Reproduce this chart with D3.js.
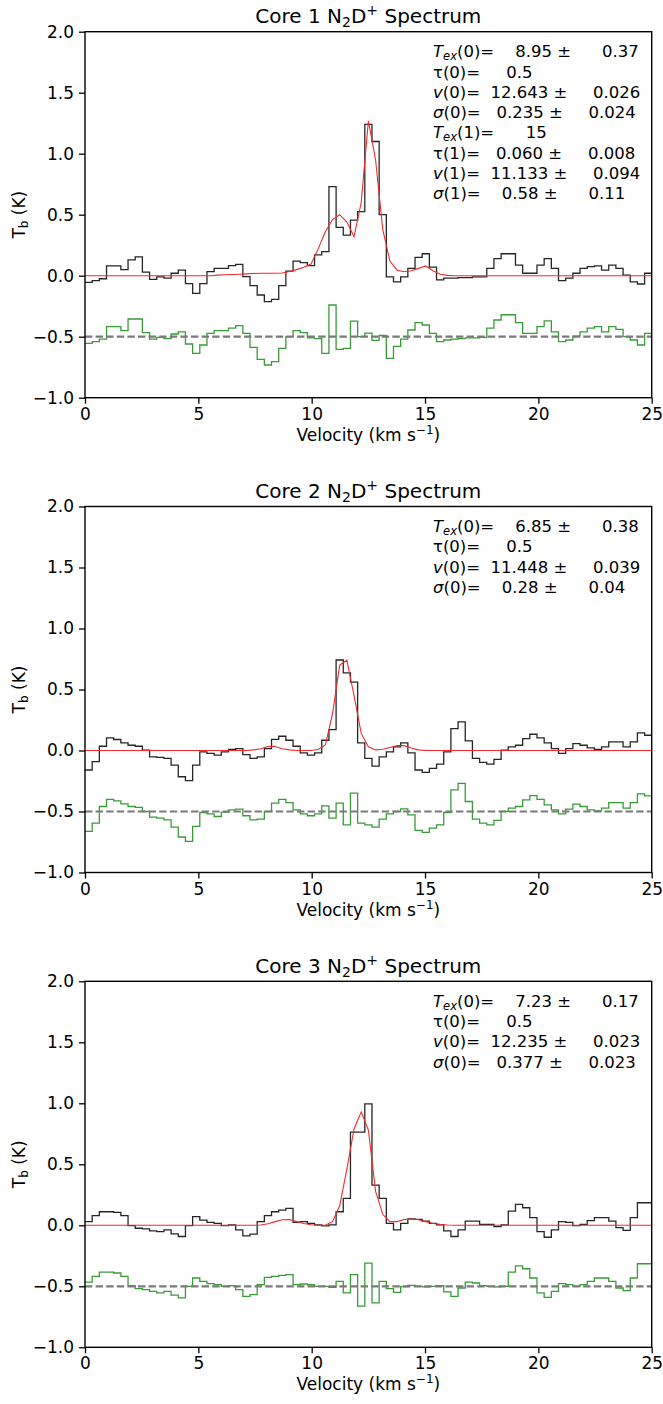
<!DOCTYPE html>
<html>
<head>
<meta charset="utf-8">
<script src="https://cdnjs.cloudflare.com/ajax/libs/d3/7.8.5/d3.min.js"></script>
<style>
body { margin: 0; background: #fff; }
text { font-family: "DejaVu Sans", sans-serif; }
</style>
</head>
<body>
<div id="chart"></div>
<script>
// channel width of the spectra (km/s), channels start at 0 km/s
var chanWidth = 0.3165;

var xTicks = [0, 5, 10, 15, 20, 25];
var yTicks = [-1, -0.5, 0, 0.5, 1, 1.5, 2];
var coreNames = ["Core 1", "Core 2", "Core 3"];

// brightness temperature per channel (K)
var core1Tb = [-0.055, -0.04, -0.025, 0.08, 0.08, 0.05, 0.13, 0.155, 0.03, -0.03,
  -0.01, -0.02, 0.02, 0.045, -0.065, -0.145, -0.065, 0.033, 0.06, 0.06,
  0.082, 0.093, -0.008, -0.082, -0.158, -0.213, -0.194, -0.082, 0.038, 0.12,
  0.107, 0.082, 0.17, 0.197, 0.73, 0.396, 0.333, 0.456, 0.525, 1.24,
  1.10, 0.50, -0.01, -0.05, -0.01, 0.06, 0.15, 0.18, 0.07, -0.035,
  -0.02, -0.02, -0.016, -0.016, -0.01, -0.01, 0.06, 0.14, 0.18, 0.18,
  0.087, 0.02, 0.02, 0.087, 0.14, 0.06, -0.04, -0.02, 0.02, 0.06,
  0.074, 0.08, 0.046, 0.087, 0.06, 0.005, -0.05, -0.068, 0.02];
var core2Tb = [-0.16, -0.092, 0.035, 0.103, 0.09, 0.063, 0.043, 0.035, 0.003, -0.052,
  -0.057, -0.065, -0.12, -0.215, -0.247, -0.12, -0.011, -0.024, -0.038, -0.011,
  0.008, 0.016, -0.033, -0.065, -0.052, 0.016, 0.092, 0.117, 0.084, 0.035,
  -0.019, -0.038, -0.019, 0.084, 0.171, 0.742, 0.636, 0.56, 0.063, -0.065,
  -0.128, -0.052, -0.011, 0.03, 0.063, -0.019, -0.16, -0.179, -0.147, -0.111,
  -0.011, 0.179, 0.234, 0.079, -0.065, -0.098, -0.111, -0.073, 0.003, 0.03,
  0.043, 0.098, 0.133, 0.103, 0.063, 0.016, -0.024, 0.016, 0.057, 0.043,
  0.022, 0.008, 0.03, 0.071, 0.071, 0.03, 0.071, 0.144, 0.125];
var core3Tb = [0.03, 0.079, 0.111, 0.111, 0.106, 0.079, -0.003, -0.024, -0.03, -0.046,
  -0.052, -0.038, -0.071, -0.092, -0.003, 0.071, 0.043, 0.024, 0.016, -0.003,
  0.003, -0.038, -0.087, -0.073, 0.03, 0.079, 0.111, 0.125, 0.139, 0.024,
  0.03, 0.016, 0.003, -0.005, 0.003, 0.111, 0.22, 0.764, 0.764, 0.995,
  0.329, 0.22, 0.016, -0.038, 0.016, 0.052, 0.049, 0.035, 0.016, 0.003,
  -0.046, -0.092, -0.038, 0.035, 0.035, 0.008, 0.008, -0.011, 0.003, 0.117,
  0.171, 0.144, 0.063, -0.052, -0.098, -0.038, 0.03, 0.024, -0.003, 0.008,
  0.038, 0.063, 0.063, 0.035, -0.019, -0.041, 0.063, 0.185, 0.185];

// hyperfine fit per channel (K)
var core1Model = [0, 0, 0, 0, 0, 0, 0, 0, 0, 0,
  0, 0, 0, 0, 0, 0, 0, 0, 0.005, 0.008,
  0.01, 0.012, 0.015, 0.018, 0.02, 0.02, 0.02, 0.022, 0.035, 0.05,
  0.07, 0.095, 0.22, 0.36, 0.46, 0.50, 0.44, 0.32, 0.60, 1.27,
  0.95, 0.38, 0.12, 0.045, 0.033, 0.04, 0.06, 0.08, 0.04, 0.012,
  0.003, 0, 0, 0, 0, 0, 0, 0, 0, 0,
  0, 0, 0, 0, 0, 0, 0, 0, 0, 0,
  0, 0, 0, 0, 0, 0, 0, 0, 0];
var core2Model = [0, 0, 0, 0, 0, 0, 0, 0, 0, 0,
  0, 0, 0, 0, 0, 0, 0, 0, 0, 0,
  0, 0, 0, 0.005, 0.015, 0.033, 0.033, 0.015, 0.005, 0,
  0, 0, 0.008, 0.045, 0.3, 0.70, 0.74, 0.45, 0.14, 0.03,
  0.005, 0.01, 0.025, 0.04, 0.04, 0.02, 0.005, 0, 0, 0,
  0, 0, 0, 0, 0, 0, 0, 0, 0, 0,
  0, 0, 0, 0, 0, 0, 0, 0, 0, 0,
  0, 0, 0, 0, 0, 0, 0, 0, 0];
var core3Model = [0, 0, 0, 0, 0, 0, 0, 0, 0, 0,
  0, 0, 0, 0, 0, 0, 0, 0, 0, 0,
  0, 0, 0, 0, 0.003, 0.012, 0.03, 0.045, 0.048, 0.03,
  0.015, 0.005, 0, 0, 0.03, 0.16, 0.46, 0.79, 0.93, 0.78,
  0.28, 0.09, 0.03, 0.03, 0.048, 0.052, 0.045, 0.03, 0.015, 0.008,
  0.003, 0, 0, 0, 0, 0, 0, 0, 0, 0,
  0, 0, 0, 0, 0, 0, 0, 0, 0, 0,
  0, 0, 0, 0, 0, 0, 0, 0, 0];

// residuals, offset by -0.5 K
var core1Resid = [-0.555, -0.54, -0.52, -0.418, -0.418, -0.45, -0.355, -0.355, -0.467, -0.52,
  -0.505, -0.516, -0.478, -0.46, -0.56, -0.637, -0.568, -0.473, -0.45, -0.45,
  -0.43, -0.41, -0.473, -0.587, -0.686, -0.732, -0.705, -0.596, -0.5, -0.45,
  -0.467, -0.51, -0.516, -0.637, -0.24, -0.604, -0.596, -0.372, -0.5, -0.47,
  -0.53, -0.49, -0.678, -0.58, -0.52, -0.445, -0.385, -0.404, -0.473, -0.54,
  -0.527, -0.52, -0.516, -0.51, -0.51, -0.505, -0.43, -0.363, -0.32, -0.32,
  -0.385, -0.473, -0.473, -0.418, -0.37, -0.46, -0.54, -0.527, -0.495, -0.46,
  -0.43, -0.418, -0.46, -0.418, -0.44, -0.5, -0.527, -0.568, -0.473];
var core2Resid = [-0.663, -0.595, -0.459, -0.4, -0.413, -0.438, -0.459, -0.467, -0.5, -0.546,
  -0.554, -0.568, -0.628, -0.709, -0.745, -0.622, -0.508, -0.519, -0.541, -0.505,
  -0.486, -0.481, -0.535, -0.568, -0.563, -0.5, -0.432, -0.4, -0.427, -0.486,
  -0.519, -0.535, -0.519, -0.454, -0.554, -0.432, -0.609, -0.35, -0.595, -0.609,
  -0.628, -0.563, -0.519, -0.5, -0.478, -0.527, -0.655, -0.671, -0.636, -0.609,
  -0.508, -0.323, -0.269, -0.418, -0.563, -0.595, -0.609, -0.573, -0.5, -0.473,
  -0.459, -0.405, -0.37, -0.4, -0.446, -0.486, -0.519, -0.481, -0.44, -0.459,
  -0.486, -0.495, -0.473, -0.427, -0.427, -0.473, -0.427, -0.356, -0.372];
var core3Resid = [-0.465, -0.418, -0.383, -0.383, -0.391, -0.418, -0.495, -0.519, -0.527, -0.541,
  -0.554, -0.541, -0.573, -0.595, -0.5, -0.432, -0.459, -0.478, -0.486, -0.5,
  -0.495, -0.527, -0.582, -0.568, -0.486, -0.427, -0.418, -0.41, -0.405, -0.486,
  -0.481, -0.486, -0.5, -0.5, -0.508, -0.459, -0.554, -0.405, -0.663, -0.31,
  -0.636, -0.459, -0.519, -0.549, -0.503, -0.492, -0.5, -0.505, -0.5, -0.495,
  -0.546, -0.582, -0.514, -0.465, -0.473, -0.495, -0.5, -0.505, -0.5, -0.383,
  -0.332, -0.356, -0.432, -0.554, -0.59, -0.541, -0.478, -0.486, -0.5, -0.486,
  -0.459, -0.432, -0.432, -0.459, -0.514, -0.535, -0.432, -0.315, -0.315];

// fit parameters shown in the corner
var paramSymbols = ["Tex", "tau", "v", "sigma", "Tex", "tau", "v", "sigma"];
var paramComps = [0, 0, 0, 0, 1, 1, 1, 1];
var core1Vals = ["8.95", "0.5", "12.643", "0.235", "15", "0.060", "11.133", "0.58"];
var core1Errs = ["0.37", "", "0.026", "0.024", "", "0.008", "0.094", "0.11"];
var core2Vals = ["6.85", "0.5", "11.448", "0.28"];
var core2Errs = ["0.38", "", "0.039", "0.04"];
var core3Vals = ["7.23", "0.5", "12.235", "0.377"];
var core3Errs = ["0.17", "", "0.023", "0.023"];

var residOffset = -0.5;

var panels = [
  {name: coreNames[0], tb: core1Tb, model: core1Model, resid: core1Resid, vals: core1Vals, errs: core1Errs},
  {name: coreNames[1], tb: core2Tb, model: core2Model, resid: core2Resid, vals: core2Vals, errs: core2Errs},
  {name: coreNames[2], tb: core3Tb, model: core3Model, resid: core3Resid, vals: core3Vals, errs: core3Errs}
];

var W = 663, H = 1404;
var left = 85, plotW = 566.7, plotH = 366;
var firstTop = 31.7, panelStep = 474.8;
var nb = "\u00a0";

var svg = d3.select("#chart").append("svg")
  .attr("width", W).attr("height", H);
svg.append("rect").attr("width", W).attr("height", H).attr("fill", "#fff");

var x = d3.scaleLinear().domain([0, 25]).range([left, left + plotW]);

function pad(s) { // right-justify like "%8s"
  var n = Math.max(0, 8 - s.length);
  return nb.repeat(n) + s;
}

function stepPoints(vals) { // left channel edges + final right edge
  var pts = vals.map(function(v, k) { return [k * chanWidth, v]; });
  pts.push([vals.length * chanWidth, vals[vals.length - 1]]);
  return pts;
}

function modelPoints(vals) { // channel centres, extended to the axis limits
  var pts = vals.map(function(v, k) { return [(k + 0.5) * chanWidth, v]; });
  pts.unshift([x.domain()[0], vals[0]]);
  pts.push([x.domain()[1], vals[vals.length - 1]]);
  return pts;
}

panels.forEach(function(p, i) {
  var top = firstTop + i * panelStep;
  var y = d3.scaleLinear().domain([-1, 2]).range([top + plotH, top]);
  var g = svg.append("g");

  g.append("clipPath").attr("id", "clip" + i)
    .append("rect").attr("x", left).attr("y", top).attr("width", plotW).attr("height", plotH);
  var plot = g.append("g").attr("clip-path", "url(#clip" + i + ")");

  var step = d3.line().x(function(d) { return x(d[0]); }).y(function(d) { return y(d[1]); })
    .curve(d3.curveStepAfter);
  var lin = d3.line().x(function(d) { return x(d[0]); }).y(function(d) { return y(d[1]); });

  // data
  plot.append("path").attr("d", step(stepPoints(p.tb)))
    .attr("fill", "none").attr("stroke", "#262626").attr("stroke-width", 1.3);
  // fit
  plot.append("path").attr("d", lin(modelPoints(p.model)))
    .attr("fill", "none").attr("stroke", "#f22a2a").attr("stroke-width", 1.1);
  // residual
  plot.append("path").attr("d", step(stepPoints(p.resid)))
    .attr("fill", "none").attr("stroke", "#3a9a3a").attr("stroke-width", 1.3);
  // residual zero line
  plot.append("line").attr("x1", x(0)).attr("x2", x(25))
    .attr("y1", y(residOffset)).attr("y2", y(residOffset))
    .attr("stroke", "#7a7a7a").attr("stroke-width", 2.2).attr("stroke-dasharray", "7.4,3.2");

  // axes
  var yAxis = d3.axisLeft(y).tickValues(yTicks).tickSize(6).tickPadding(5)
    .tickFormat(d3.format(".1f"));
  var xAxis = d3.axisBottom(x).tickValues(xTicks).tickSize(6).tickPadding(4)
    .tickFormat(d3.format("d"));
  var ya = g.append("g").attr("transform", "translate(" + left + ",0)").call(yAxis);
  var xa = g.append("g").attr("transform", "translate(0," + (top + plotH) + ")").call(xAxis);
  [ya, xa].forEach(function(a) {
    a.select(".domain").remove();
    a.selectAll("line").attr("stroke", "#000").attr("stroke-width", 1.3);
    a.selectAll("text").attr("fill", "#000").attr("font-size", 17)
      .attr("font-family", "DejaVu Sans, sans-serif");
  });

  g.append("rect").attr("x", left).attr("y", top).attr("width", plotW).attr("height", plotH)
    .attr("fill", "none").attr("stroke", "#000").attr("stroke-width", 1.4);

  // title
  var t = g.append("text").attr("x", left + plotW / 2).attr("y", top - 8.5)
    .attr("text-anchor", "middle").attr("font-size", 20);
  t.append("tspan").text(p.name + " N");
  t.append("tspan").attr("font-size", 14).attr("dy", 4).text("2");
  t.append("tspan").attr("dy", -4).text("D");
  t.append("tspan").attr("font-size", 14).attr("dy", -8).text("+");
  t.append("tspan").attr("dy", 8).text(" Spectrum");

  // axis labels
  var xl = g.append("text").attr("x", left + plotW / 2).attr("y", top + plotH + 43)
    .attr("text-anchor", "middle").attr("font-size", 17);
  xl.append("tspan").text("Velocity (km s");
  xl.append("tspan").attr("font-size", 12).attr("dy", -7).text("\u22121");
  xl.append("tspan").attr("dy", 7).text(")");

  var yl = g.append("text")
    .attr("transform", "translate(25," + (top + plotH / 2) + ") rotate(-90)")
    .attr("text-anchor", "middle").attr("font-size", 17);
  yl.append("tspan").text("T");
  yl.append("tspan").attr("font-size", 12).attr("dy", 3).text("b");
  yl.append("tspan").attr("dy", -3).text(" (K)");

  // fit parameters
  p.vals.forEach(function(val, j) {
    var sym = paramSymbols[j], comp = paramComps[j], err = p.errs[j];
    var line = g.append("text").attr("x", 433).attr("y", top + 25.5 + j * 20.3)
      .attr("font-size", 16.5);
    if (sym === "Tex") {
      line.append("tspan").attr("font-style", "italic").text("T");
      line.append("tspan").attr("font-style", "italic").attr("font-size", 11.5).attr("dy", 3).text("ex");
      line.append("tspan").attr("dy", -3).text("(" + comp + ")=");
    } else {
      var ch = sym === "tau" ? "\u03c4" : (sym === "v" ? "v" : "\u03c3");
      line.append("tspan").attr("font-style", sym === "tau" ? "normal" : "italic").text(ch);
      line.append("tspan").text("(" + comp + ")=");
    }
    line.append("tspan").text(pad(val));
    if (err) {
      line.append("tspan").text(nb + "\u00b1");
      line.append("tspan").attr("dx", 10).text(pad(err));
    }
  });
});
</script>
</body>
</html>
